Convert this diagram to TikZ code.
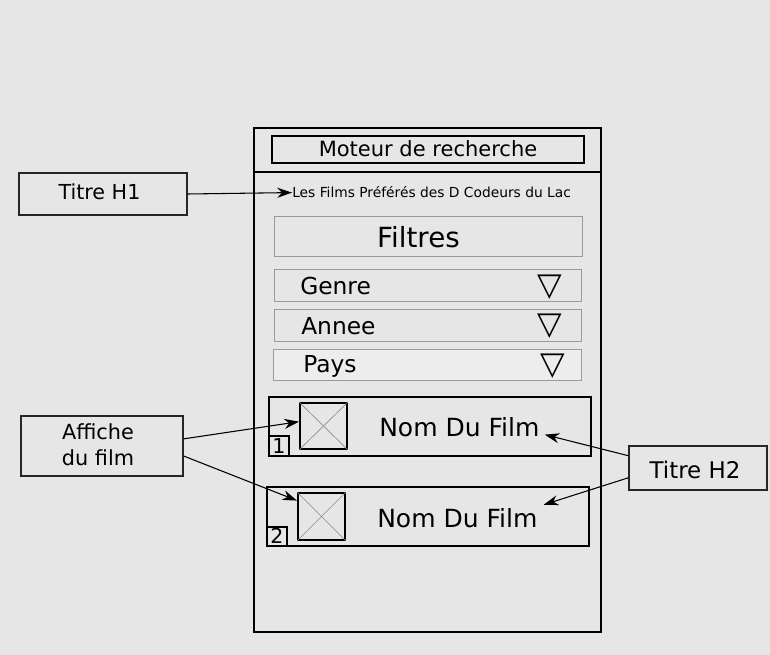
\documentclass[tikz,border=0pt]{standalone}
\usepackage{fontspec}
\setmainfont{DejaVu Sans}
\usetikzlibrary{arrows.meta,fit}
\definecolor{fond}{HTML}{E6E6E6}
\newcommand{\fs}[1]{\fontsize{#1pt}{#1pt}\selectfont}

\tikzset{
  cadre/.style={draw=black, line width=1.5pt, inner sep=0pt},
  champ/.style={draw=black!40, line width=0.75pt, inner sep=0pt},
  note/.style={draw=black!85, line width=1.1pt, inner sep=0pt},
  diag/.style={draw=black!45, line width=0.5pt},
  fleche/.style={-{Stealth[length=11pt,width=7.5pt,inset=3.5pt]}, line width=0.8pt},
  txt/.style={inner sep=0pt, anchor=base},
}

\begin{document}
\begin{tikzpicture}[x=0.75pt, y=-0.75pt]
	%%%%% FOND %%%%%
	\fill[fond] (0,0) rectangle (770,655);
	\useasboundingbox (0,0) rectangle (770,655);
	
	%%%%% TELEPHONE %%%%%
	\node[cadre, fit={(254,128) (601,632)}] (phone) {};
	\draw[line width=1.5pt] (phone.west |- 0,172) -- (phone.east |- 0,172);
	\node[cadre, fit={(272,136) (584,163)}] (moteur) {};
	\node[txt, font=\fs{15.75}] (moteurT) at (428,157) {Moteur de recherche};
	\node[txt, anchor=base west, font=\fs{10.35}] (titre) at (292,198) {Les Films Préférés des D Codeurs du Lac};
	
	%%%%% FILTRES %%%%%
	\node[champ, fit={(274,217) (582,257)}] (filtres) {};
	\node[txt, font=\fs{20.8}] (filtresT) at (418.5,248) {Filtres};
	\node[champ, fit={(274,270) (581,302)}] (genre) {};
	\node[champ, fit={(274,310) (581,342)}] (annee) {};
	\node[champ, fill=black!7, fit={(273,350) (581,381)}] (pays) {};
	\node[txt, anchor=base west, font=\fs{17.5}] (genreT) at (300,295) {Genre};
	\node[txt, anchor=base west, font=\fs{17.5}] (anneeT) at (301,335) {Annee};
	\node[txt, anchor=base west, font=\fs{17.5}] (paysT) at (303,373) {Pays};
	\node[inner sep=0pt, font=\fs{24}] (tri1) at (550,287) {▽};
	\node[inner sep=0pt, font=\fs{24}] (tri2) at (550,326) {▽};
	\node[inner sep=0pt, font=\fs{24}] (tri3) at (553,366) {▽};
	
	%%%%% FILMS %%%%%
	\node[cadre, fit={(269,397) (591,456)}] (film1) {};
	\node[cadre, fit={(300,403) (347,449)}] (img1) {};
	\draw[diag] (img1.north west) -- (img1.south east) (img1.north east) -- (img1.south west);
	\node[cadre, fit={(269,436) (289,456)}] (num1) {};
	\node[txt, font=\fs{15.4}] at (279,453) {1};
	\node[txt, anchor=base west, font=\fs{18.75}] (nom1) at (379,436) {Nom Du Film};
	
	\node[cadre, fit={(267,487) (589,546)}] (film2) {};
	\node[cadre, fit={(298,493) (345,540)}] (img2) {};
	\draw[diag] (img2.north west) -- (img2.south east) (img2.north east) -- (img2.south west);
	\node[cadre, fit={(267,527) (287,546)}] (num2) {};
	\node[txt, font=\fs{15.4}] at (277,543) {2};
	\node[txt, anchor=base west, font=\fs{18.75}] (nom2) at (377,527) {Nom Du Film};
	
	%%%%% NOTES %%%%%
	\node[note, fit={(19,173) (187,215)}] (h1) {};
	\node[txt, font=\fs{15.5}] at (99.5,200) {Titre H1};
	\node[note, fit={(21,416) (183,476)}] (aff) {};
	\node[txt, font=\fs{15.6}] at (98,439) {Affiche};
	\node[txt, font=\fs{15.6}] at (98,465) {du film};
	\node[note, fit={(629,446) (767,490)}] (h2) {};
	\node[txt, font=\fs{17.2}] at (695,478) {Titre H2};
	
	\draw[fleche] (h1.east) -- (titre.west);
	\draw[fleche] (aff.5) -- (img1.170);
	\draw[fleche] (aff.-7) -- (img2.147);
	\draw[fleche] (h2.170) -- ([shift={(5,-2)}]nom1.south east);
	\draw[fleche] (h2.188) -- ([shift={(6,-3)}]nom2.north east);
\end{tikzpicture}
\end{document}
